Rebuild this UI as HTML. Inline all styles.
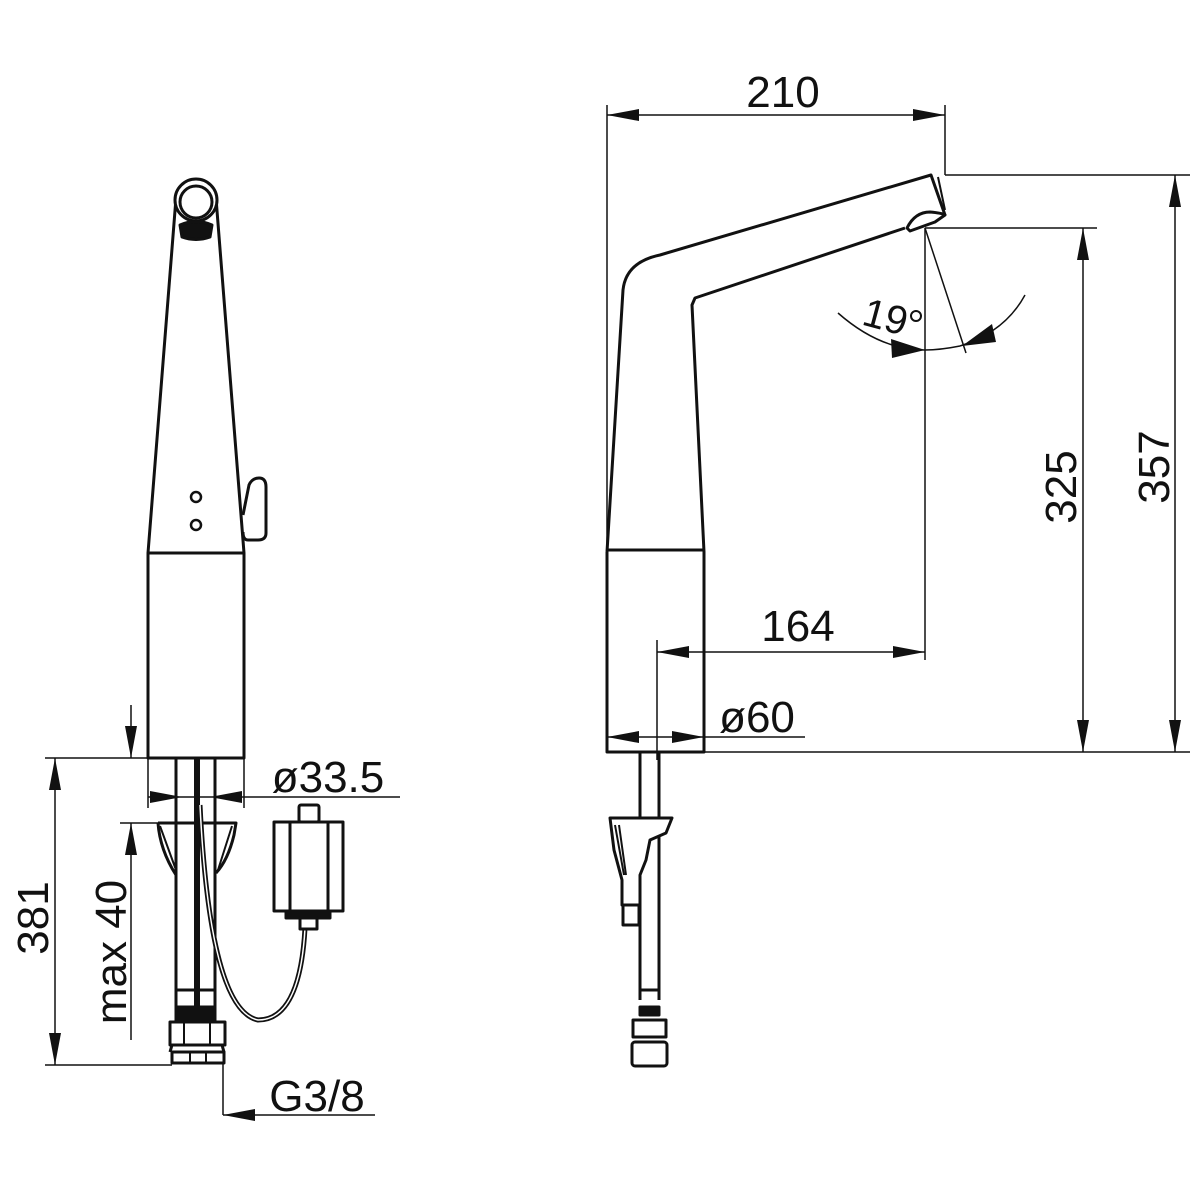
<!DOCTYPE html>
<html><head><style>body{margin:0;background:#fff}svg{display:block}text{font-family:"Liberation Sans",sans-serif;fill:#111}</style></head><body>
<svg width="1200" height="1200" viewBox="0 0 1200 1200" xmlns="http://www.w3.org/2000/svg">
<defs>
<marker id="a" viewBox="0 0 32 12" refX="32" refY="6" markerWidth="32" markerHeight="12" markerUnits="userSpaceOnUse" orient="auto"><path d="M0,0L32,6L0,12z" fill="#111"/></marker>
</defs>
<g fill="none" stroke="#111" stroke-width="3" stroke-linejoin="round">
<!-- left body -->
<path d="M176,198 L148,553 L148,758 L244,758 L244,553 L216,198"/>
<circle cx="196" cy="200" r="21" fill="#fff"/>
<circle cx="196" cy="202" r="16"/>
<path d="M180,225 Q196,218 212,225 L210,237 Q196,242 182,237 Z" fill="#111"/>
<line x1="148" y1="553" x2="244" y2="553"/>
<circle cx="196" cy="497" r="5" stroke-width="2.5"/>
<circle cx="196" cy="525" r="5" stroke-width="2.5"/>
<path d="M243,515 L249,485 Q252,478 259,478 Q266,478 266,487 L266,533 Q266,540 258,540 L248,540 Q243,540 243,532"/>
<!-- pipes -->
<line x1="176" y1="758" x2="176" y2="1010"/>
<line x1="215" y1="758" x2="215" y2="1010"/>
<line x1="197" y1="758" x2="197" y2="1010" stroke-width="6"/>
<path d="M158,823 L236,823 L234,835 Q228,860 216,873 M158,823 Q160,850 176,875" />
<path d="M160,826 L176,870 M232,826 L218,870" stroke-width="2"/>
<line x1="176" y1="990" x2="215" y2="990"/>
<path d="M170,1022 L225,1022 L225,1045 L170,1045 Z M172,1052 L224,1052 L224,1063 L172,1063 Z"/>
<path d="M172,1045 L170,1052 M222,1045 L224,1052"/>
<path d="M176,1007 L215,1007 L215,1022 L176,1022 Z" fill="#111"/>
<line x1="184" y1="1022" x2="184" y2="1045" stroke-width="2"/><line x1="210" y1="1022" x2="210" y2="1045" stroke-width="2"/>
<line x1="190" y1="1052" x2="190" y2="1063" stroke-width="2"/><line x1="206" y1="1052" x2="206" y2="1063" stroke-width="2"/>
<!-- cable -->
<path d="M200,805 Q210,1010 258,1020 Q300,1020 305,928" stroke-width="5"/>
<path d="M200,805 Q210,1010 258,1020 Q300,1020 305,928" stroke="#fff" stroke-width="1.5"/>
<!-- control box -->
<rect x="274" y="822" width="69" height="89"/>
<line x1="290" y1="822" x2="290" y2="911"/><line x1="328" y1="822" x2="328" y2="911"/>
<rect x="299" y="805" width="20" height="17" rx="2"/>
<path d="M286,911 L286,918 L330,918 L330,911" fill="#111"/>
<rect x="300" y="918" width="17" height="11"/>
<!-- left dims -->
<g stroke-width="1.5">
<line x1="45" y1="758" x2="148" y2="758"/>
<line x1="45" y1="1065" x2="172" y2="1065"/>
<line x1="55" y1="900" x2="55" y2="758" marker-end="url(#a)"/>
<line x1="55" y1="900" x2="55" y2="1065" marker-end="url(#a)"/>
<line x1="131" y1="705" x2="131" y2="758" marker-end="url(#a)"/>
<line x1="131" y1="1040" x2="131" y2="823" marker-end="url(#a)"/>
<line x1="120" y1="823" x2="160" y2="823"/>
<line x1="148" y1="758" x2="148" y2="808"/><line x1="244" y1="758" x2="244" y2="808"/>
<line x1="148" y1="797" x2="182" y2="797" marker-end="url(#a)"/>
<line x1="182" y1="797" x2="210" y2="797"/>
<line x1="400" y1="797" x2="244" y2="797"/>
<line x1="244" y1="797" x2="210" y2="797" marker-end="url(#a)"/>
<line x1="223" y1="1063" x2="223" y2="1115"/>
<line x1="375" y1="1115" x2="223" y2="1115" marker-end="url(#a)"/>
</g>
<!-- right spout -->
<path d="M607,552 L623,290 Q626,262 660,255 L931,175 L945,215"/>
<path d="M905,228 L695,298 L692,305 L704,552 L704,752 L607,752 L607,552"/>
<line x1="607" y1="550" x2="704" y2="550"/>
<path d="M938,177 L945,210" stroke-width="2"/>
<path d="M907,228 Q915,212 930,212 Q942,213 945,215 L935,222 L910,231 Z"/>
<!-- right pipe -->
<line x1="640" y1="752" x2="640" y2="1000"/>
<line x1="659" y1="752" x2="659" y2="1000"/>
<path d="M610,818 L672,818 L666,833 L650,840 L646,860 L640,875 L640,905 L622,905 L622,880 L614,850 Z" fill="#fff"/>
<path d="M615,825 L624,875 M619,825 L626,875" stroke-width="2"/>
<rect x="623" y="905" width="16" height="20"/>
<line x1="640" y1="990" x2="659" y2="990"/>
<path d="M640,1007 L659,1007 L659,1015 L640,1015 Z" fill="#111"/>
<rect x="633" y="1020" width="33" height="17"/><rect x="632" y="1042" width="35" height="24" rx="3"/>
<!-- right dims -->
<g stroke-width="1.5">
<line x1="607" y1="105" x2="607" y2="552"/>
<line x1="945" y1="105" x2="945" y2="175"/>
<line x1="776" y1="115" x2="607" y2="115" marker-end="url(#a)"/>
<line x1="776" y1="115" x2="945" y2="115" marker-end="url(#a)"/>
<line x1="945" y1="175" x2="1190" y2="175"/>
<line x1="925" y1="228" x2="1097" y2="228"/>
<line x1="704" y1="752" x2="1190" y2="752"/>
<line x1="1175" y1="460" x2="1175" y2="175" marker-end="url(#a)"/>
<line x1="1175" y1="460" x2="1175" y2="752" marker-end="url(#a)"/>
<line x1="1083" y1="490" x2="1083" y2="228" marker-end="url(#a)"/>
<line x1="1083" y1="490" x2="1083" y2="752" marker-end="url(#a)"/>
<line x1="925" y1="228" x2="925" y2="660"/>
<line x1="657" y1="640" x2="657" y2="760"/>
<line x1="790" y1="652" x2="925" y2="652" marker-end="url(#a)"/>
<line x1="790" y1="652" x2="704" y2="652"/>
<line x1="704" y1="652" x2="657" y2="652" marker-end="url(#a)"/>
<line x1="805" y1="737" x2="704" y2="737"/>
<line x1="657" y1="737" x2="607" y2="737" marker-end="url(#a)"/>
<line x1="657" y1="737" x2="704" y2="737" marker-end="url(#a)"/>
<line x1="925" y1="228" x2="966" y2="353"/>
<path d="M838,313 Q880,350 925,350"/>
<path d="M925,350 Q940,350 960,346" />
<path d="M960,346 Q1005,332 1025,295"/>
</g>
<path d="M891,339 L925,350 L892,358 Z" fill="#111" stroke="none"/>
<path d="M992,324 L962,346 L996,342 Z" fill="#111" stroke="none"/>
</g>
<text x="783" y="107" font-size="44" text-anchor="middle">210</text>
<text x="798" y="641" font-size="44" text-anchor="middle">164</text>
<text x="757" y="732" font-size="44" text-anchor="middle">ø60</text>
<text x="328" y="792" font-size="44" text-anchor="middle">ø33.5</text>
<text x="317" y="1111" font-size="44" text-anchor="middle">G3/8</text>
<text transform="translate(1169,467) rotate(-90)" font-size="44" text-anchor="middle">357</text>
<text transform="translate(1076,487) rotate(-90)" font-size="44" text-anchor="middle">325</text>
<text transform="translate(48,918) rotate(-90)" font-size="44" text-anchor="middle">381</text>
<text transform="translate(126,952) rotate(-90)" font-size="44" text-anchor="middle">max 40</text>
<text transform="translate(882,330) rotate(15)" font-size="40" text-anchor="middle">19</text>
<circle cx="916" cy="316" r="5" fill="none" stroke="#111" stroke-width="2"/>
</svg>
</body></html>
